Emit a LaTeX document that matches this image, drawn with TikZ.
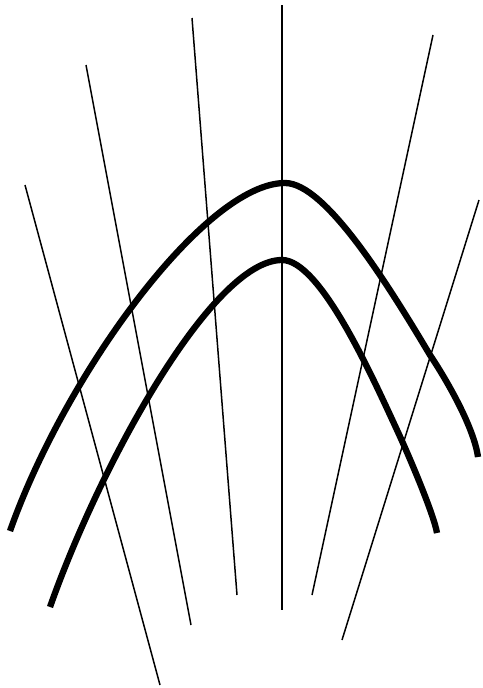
\documentclass[tikz,border=0pt]{standalone}
\begin{document}
\begin{tikzpicture}[x=1pt,y=-1pt,
  thin line/.style={line width=1.5pt},
  thick curve/.style={line width=6.3pt}]
\useasboundingbox (0,0) rectangle (482,688);
\coordinate (a1) at (25,185); \coordinate (b1) at (160,685);
\coordinate (a2) at (86,65); \coordinate (b2) at (191,625);
\coordinate (a3) at (192,18); \coordinate (b3) at (237,595);
\coordinate (a4) at (282,5); \coordinate (b4) at (282,610);
\coordinate (a5) at (433,35); \coordinate (b5) at (312,595);
\coordinate (a6) at (479,200); \coordinate (b6) at (342,640);
\draw[thin line] (a1) -- (b1);
\draw[thin line] (a2) -- (b2);
\draw[thin line] (a3) -- (b3);
\draw[thin line] (a4) -- (b4);
\draw[thin line] (a5) -- (b5);
\draw[thin line] (a6) -- (b6);
% outer curve
\coordinate (o0) at (10,531);
\coordinate (o1) at (285,183);
\coordinate (o2) at (430,355);
\coordinate (o3) at (478,457);
\draw[thick curve] (o0) .. controls (65,375) and (205,183) .. (o1)
  .. controls (325,183) and (387,283) .. (o2)
  .. controls (448,382) and (474,428) .. (o3);
% inner curve
\coordinate (i0) at (50,607);
\coordinate (i1) at (282,260);
\coordinate (i2) at (397,430);
\coordinate (i3) at (437,533);
\draw[thick curve] (i0) .. controls (100,465) and (212,260) .. (i1)
  .. controls (320,260) and (371,374) .. (i2)
  .. controls (410,458) and (434,515) .. (i3);
\end{tikzpicture}
\end{document}
